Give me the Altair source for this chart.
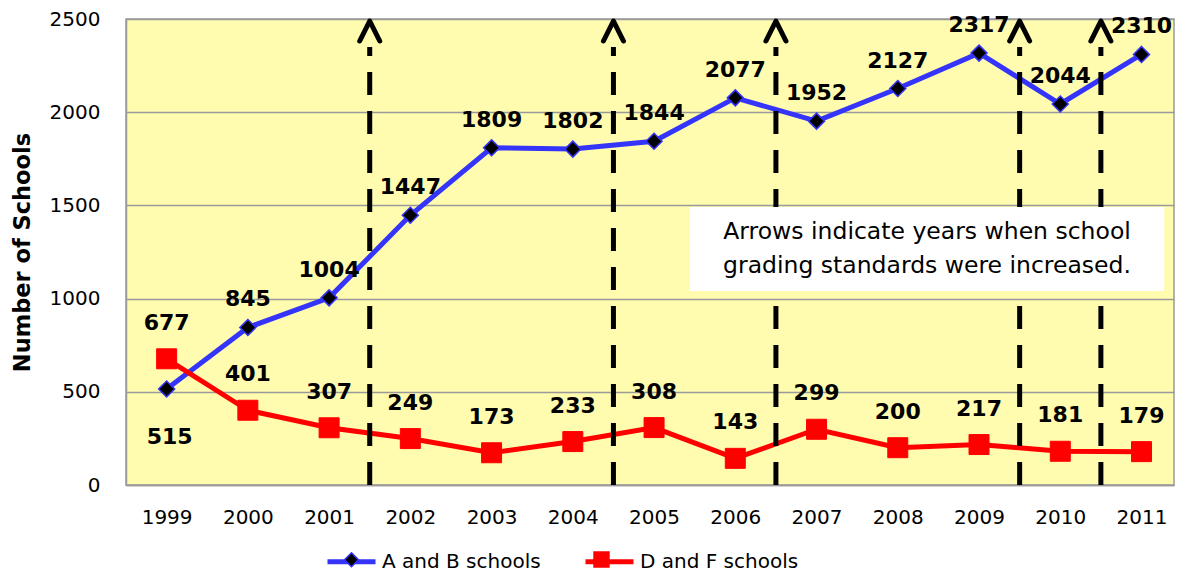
import altair as alt
import pandas as pd

# ---- data ----
years = [1999, 2000, 2001, 2002, 2003, 2004, 2005, 2006, 2007, 2008, 2009, 2010, 2011]
ab_values = [515, 845, 1004, 1447, 1809, 1802, 1844, 2077, 1952, 2127, 2317, 2044, 2310]
df_values = [677, 401, 307, 249, 173, 233, 308, 143, 299, 200, 217, 181, 179]
series_names = ["A and B schools", "D and F schools"]
series_codes = ["AB", "DF"]
arrow_years = [2002, 2005, 2007, 2010, 2011]  # years when grading standards were increased
note_lines = ["Arrows indicate years when school", "grading standards were increased."]
y_ticks = [0, 500, 1000, 1500, 2000, 2500]

FONT = "DejaVu Sans"
BLUE = "#3434FA"
RED = "#FF0000"
YELLOW = "#FFFBAF"
GRID = "#9A9A9A"

long = pd.DataFrame({
    "year": years * 2,
    "value": ab_values + df_values,
    "series": [series_names[0]] * len(years) + [series_names[1]] * len(years),
    "code": [series_codes[0]] * len(years) + [series_codes[1]] * len(years),
})
arrows = pd.DataFrame({"year": arrow_years})

x_scale = alt.Scale(domain=[1998.5, 2011.4], nice=False, zero=False)
y_scale = alt.Scale(domain=[0, 2500], nice=False)

x_axis = alt.Axis(values=years, format="d", title=None, labelFontSize=20, labelFont=FONT,
                  labelColor="black", labelPadding=22, ticks=False, grid=False,
                  domainColor=GRID, domainWidth=1.5, labelFlush=False)
y_axis = alt.Axis(values=y_ticks, format="d", title="Number of Schools", titleFontSize=22.5,
                  titleFont=FONT, titleFontWeight="bold", titleColor="black", titleX=-104,
                  titleY=233, titleAngle=270, titleAlign="center", titleBaseline="middle",
                  labelFontSize=20, labelFont=FONT, labelColor="black", labelPadding=26,
                  ticks=False, grid=True, gridColor=GRID, gridWidth=1.5,
                  domainColor=GRID, domainWidth=1.5)

X = alt.X("year:Q", scale=x_scale, axis=x_axis)
Y = alt.Y("value:Q", scale=y_scale, axis=y_axis)

diamond_path = "M0,-0.27L0.27,0L0,0.27L-0.27,0Z"
square_path = "M-0.29,-0.29L0.29,-0.29L0.29,0.29L-0.29,0.29Z"

LEG_X, COLPAD = 199, 34
legend_line = alt.Legend(title=None, orient="none", legendX=LEG_X, legendY=516,
                         direction="horizontal", padding=0,
                         symbolType="stroke", symbolSize=2304, symbolStrokeWidth=5,
                         labelFontSize=20, labelFont=FONT, labelColor="black", labelOffset=4,
                         columnPadding=COLPAD)
code_label = (f"datum.label == '{series_codes[0]}' ? '{series_names[0]}' : '{series_names[1]}'")
legend_mark = alt.Legend(title=None, orient="none", legendX=LEG_X, legendY=514,
                         direction="horizontal", padding=0,
                         symbolSize=2652, symbolStrokeWidth=1.5,
                         labelFontSize=20, labelFont=FONT, labelOpacity=0, labelOffset=4,
                         labelExpr=code_label, columnPadding=COLPAD)

base = alt.Chart(long)

lines = base.mark_line(strokeWidth=5).encode(
    x=X, y=Y,
    color=alt.Color("series:N", scale=alt.Scale(domain=series_names, range=[BLUE, RED]),
                    legend=legend_line),
)

shape_enc = alt.Shape("code:N", scale=alt.Scale(domain=series_codes, range=[diamond_path, square_path]),
                      legend=legend_mark)
fill_enc = alt.Fill("code:N", scale=alt.Scale(domain=series_codes, range=["black", RED]),
                    legend=legend_mark)
stroke_enc = alt.Stroke("code:N", scale=alt.Scale(domain=series_codes, range=[BLUE, RED]),
                        legend=legend_mark)

diamonds = base.mark_point(filled=True, size=3510, strokeWidth=1.5, opacity=1).encode(
    x=X, y=Y, shape=shape_enc, fill=fill_enc, stroke=stroke_enc,
).transform_filter(alt.datum.code == series_codes[0])

squares = base.mark_point(filled=True, size=4750, strokeWidth=1, opacity=1).encode(
    x=X, y=Y, shape=shape_enc, fill=fill_enc, stroke=stroke_enc,
).transform_filter(alt.datum.code == series_codes[1])

arrow_base = alt.Chart(arrows).transform_calculate(pos="datum.year - 0.5")
AX = alt.X("pos:Q", scale=x_scale, axis=x_axis)

rules = arrow_base.mark_rule(color="black", strokeWidth=5, strokeDash=[23, 16], y2Offset=28).encode(
    x=AX, y=alt.Y(datum=0, type="quantitative", scale=y_scale, axis=y_axis),
    y2=alt.Y2(datum=2500),
)
heads = arrow_base.mark_point(shape="M-1,1L0,-1L1,1", filled=False, stroke="black", strokeWidth=5,
                              size=400, yOffset=12, strokeCap="round", strokeJoin="round",
                              opacity=1).encode(
    x=AX, y=alt.Y(datum=2500, type="quantitative", scale=y_scale, axis=y_axis),
)

note_box = alt.Chart(arrows).mark_rect(fill="white").encode(
    x=alt.X(datum=2005.44, type="quantitative", scale=x_scale, axis=x_axis),
    x2=alt.X2(datum=2011.28),
    y=alt.Y(datum=1041, type="quantitative", scale=y_scale, axis=y_axis),
    y2=alt.Y2(datum=1491),
).transform_filter(alt.datum.year == arrow_years[0])

note_text = alt.Chart(arrows).mark_text(font=FONT, fontSize=23.5, color="black", lineHeight=34,
                                        align="center", baseline="middle").encode(
    x=alt.X(datum=2008.36, type="quantitative", scale=x_scale, axis=x_axis),
    y=alt.Y(datum=1357, type="quantitative", scale=y_scale, axis=y_axis),
    text=alt.value(note_lines),
).transform_filter(alt.datum.year == arrow_years[0])

label_style = dict(font=FONT, fontSize=22, fontWeight="bold", color="black", align="center",
                   baseline="middle")
ab_labels = base.mark_text(dy=-28, **label_style).encode(
    x=X, y=Y, text=alt.Text("value:Q", format="d"),
).transform_filter((alt.datum.code == series_codes[0]) & (alt.datum.year != years[0]))
ab_first = base.mark_text(dy=48, dx=3, **label_style).encode(
    x=X, y=Y, text=alt.Text("value:Q", format="d"),
).transform_filter((alt.datum.code == series_codes[0]) & (alt.datum.year == years[0]))
df_labels = base.mark_text(dy=-36, **label_style).encode(
    x=X, y=Y, text=alt.Text("value:Q", format="d"),
).transform_filter(alt.datum.code == series_codes[1])

chart = alt.layer(
    lines, diamonds, squares, rules, heads, note_box, note_text, ab_labels, ab_first, df_labels
).properties(
    width=1048, height=466,
    autosize=alt.AutoSizeParams(type="none"),
    padding={"left": 118, "top": 11, "right": 4, "bottom": 88},
).configure_view(
    fill=YELLOW, stroke=GRID, strokeWidth=1.5,
)

chart.save("out.html", embed_options={"renderer": "svg", "actions": False})
